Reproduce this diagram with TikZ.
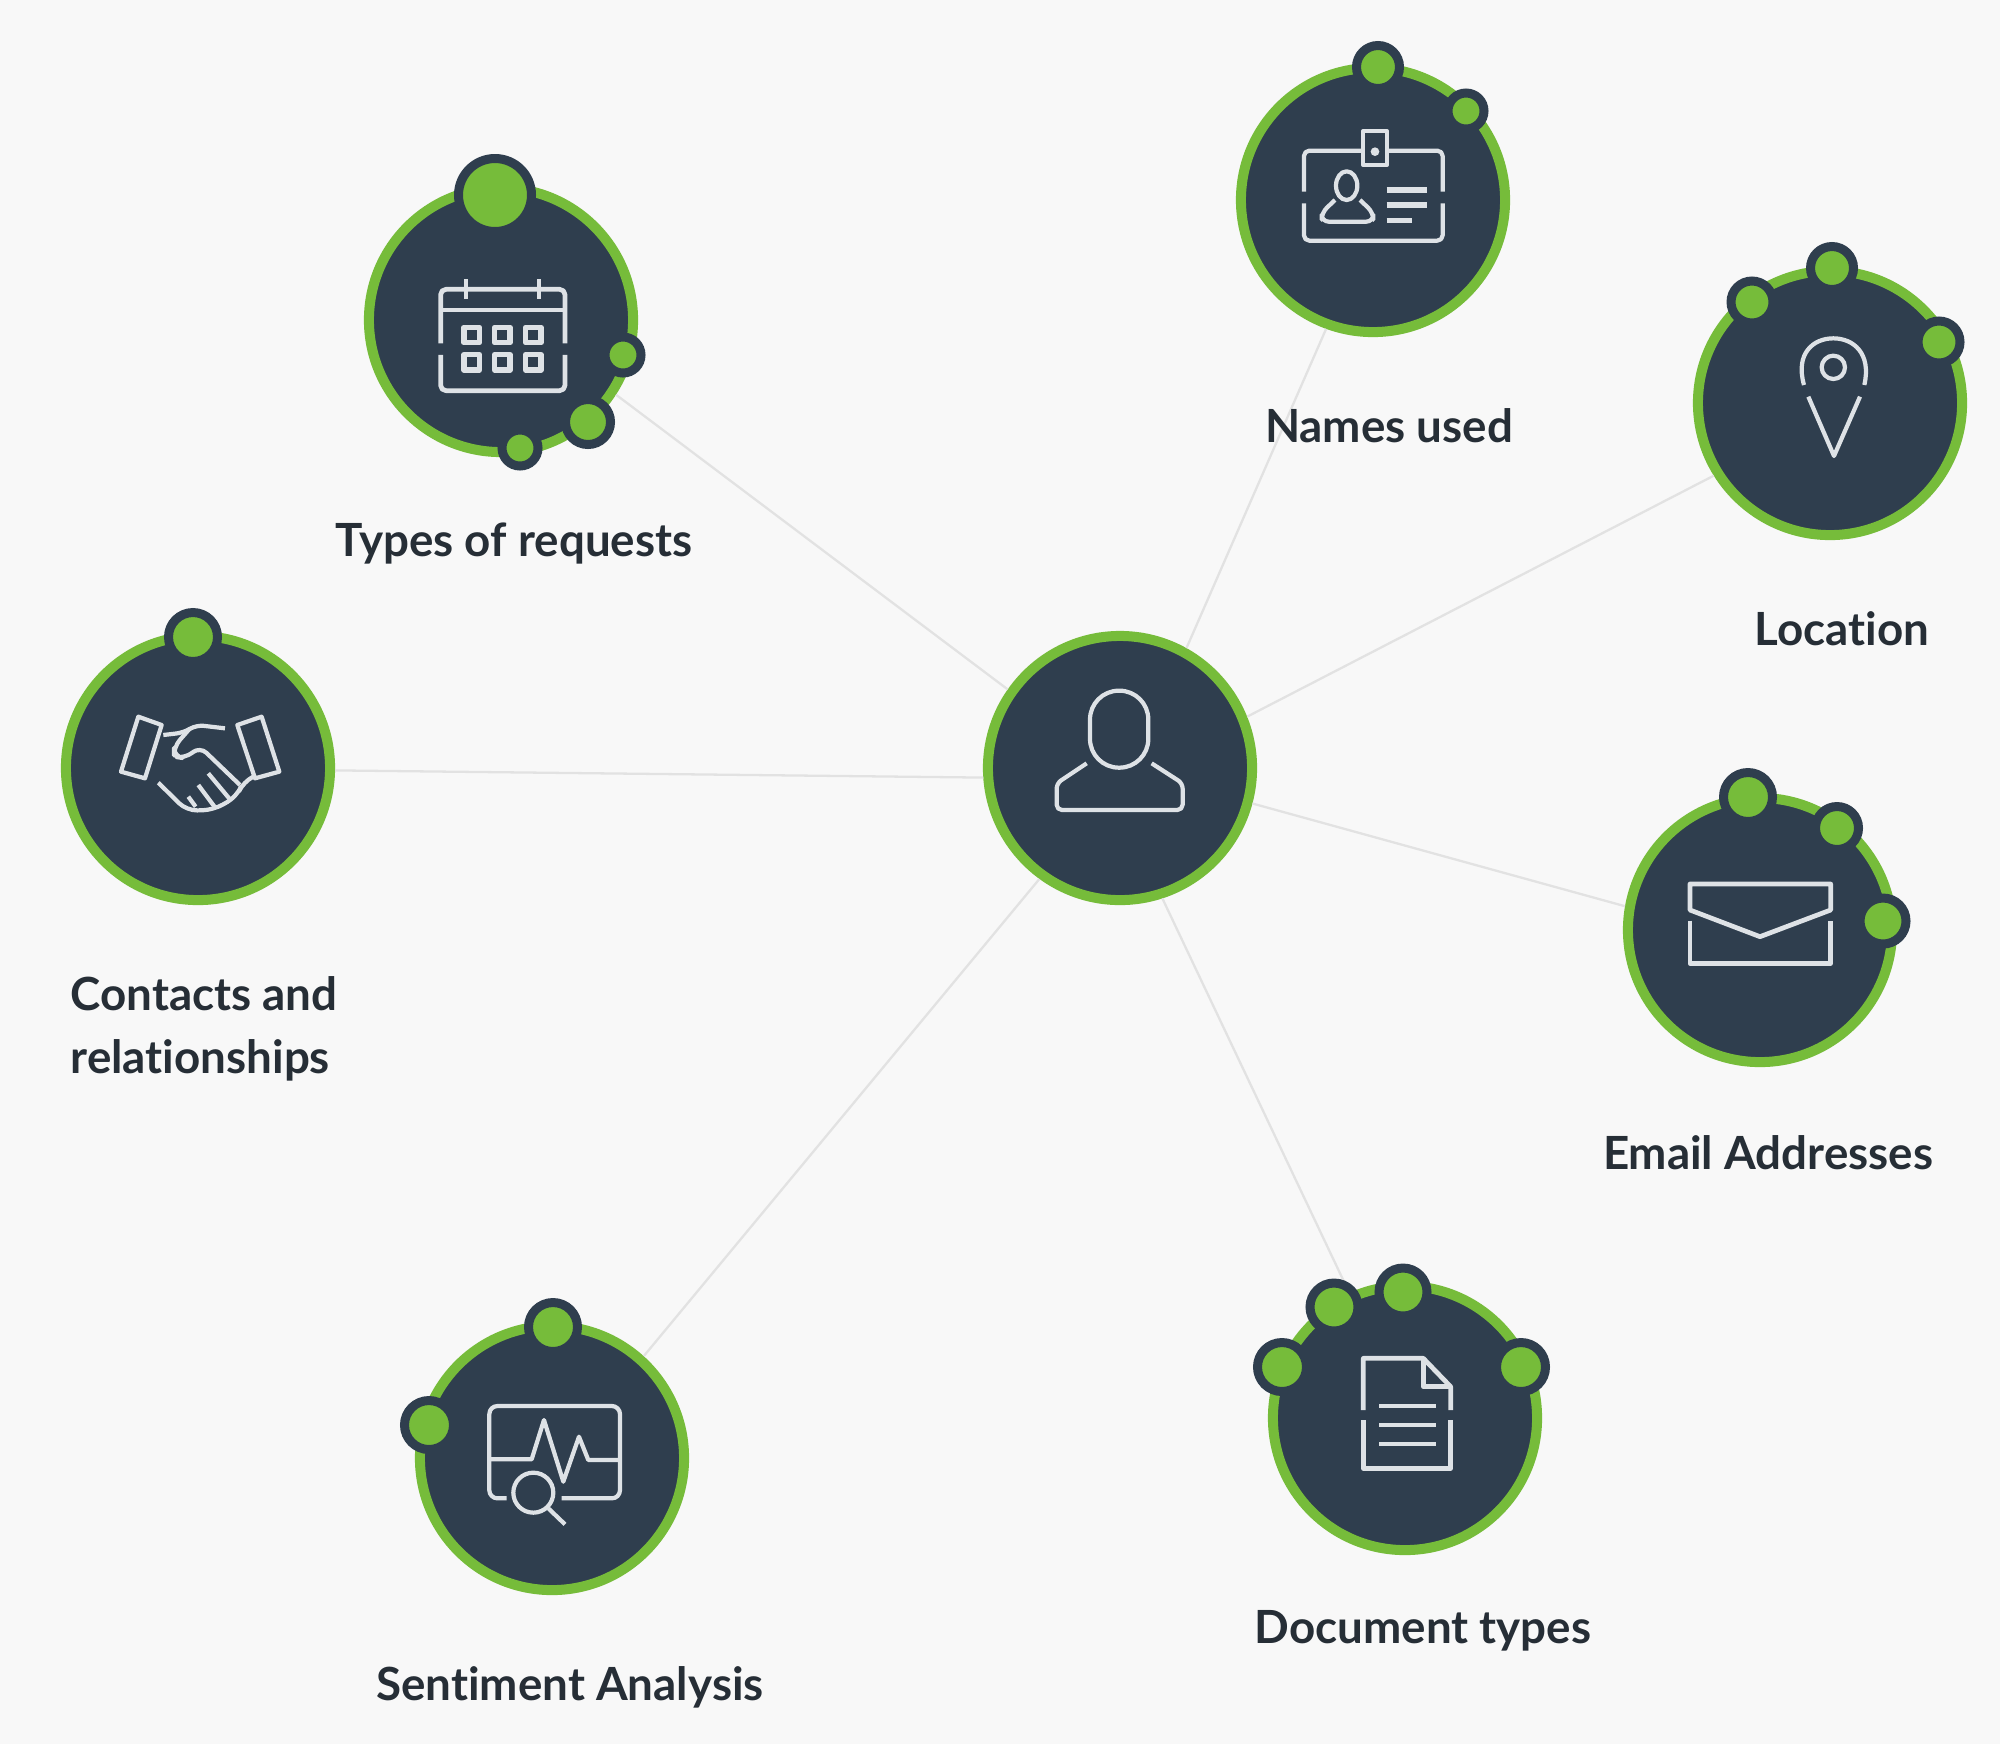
\documentclass[tikz,border=0pt]{standalone}
\usepackage{fontspec}
\setmainfont{Lato}[Ligatures=NoCommon]
\definecolor{leaf}{RGB}{118,188,58}
\definecolor{slate}{RGB}{47,62,78}
\definecolor{paper}{RGB}{248,248,248}
\definecolor{spokegray}{RGB}{226,226,226}
\definecolor{iconline}{RGB}{222,226,230}
\definecolor{inktext}{RGB}{38,46,54}
\tikzset{
	hubnode/.style={circle, fill=slate, draw=leaf, line width=2.85pt, minimum size=2.64cm, inner sep=0pt},
	bubble/.style={circle, fill=leaf, draw=slate, line width=2.56pt, minimum size=#1*0.01cm, inner sep=0pt},
	spoke/.style={spokegray, line width=0.65pt},
	icon/.style={iconline, line width=1.2pt, line join=round},
	itemtext/.style={text=inktext, inner sep=0pt, font=\bfseries\fontsize{13}{18}\selectfont}
}
\begin{document}
\begin{tikzpicture}[x=0.01cm, y=-0.01cm]
	\useasboundingbox (0, 0) rectangle (2000, 1744);
	\fill[paper] (0, 0) rectangle (2000, 1744);

	\node[hubnode] (user) at (1120, 768) {};
	\node[hubnode] (types) at (501, 320) {};
	\node[hubnode] (names) at (1373, 200) {};
	\node[hubnode] (location) at (1830, 403) {};
	\node[hubnode] (contacts) at (198, 768) {};
	\node[hubnode] (email) at (1760, 930) {};
	\node[hubnode] (sentiment) at (552, 1458) {};
	\node[hubnode] (document) at (1405, 1418) {};

	\draw[spoke] (user.145.3) -- (types.327.1);
	\draw[spoke] (user.61.8) -- (names.250);
	\draw[spoke] (user.22.9) -- (location.212.7);
	\draw[spoke] (user.184.6) -- (contacts.359);
	\draw[spoke] (user.345.7) -- (email.170.5);
	\draw[spoke] (user.288.8) -- (document.114.4);
	\draw[spoke] (user.234.3) -- (sentiment.48.7);

	\node[bubble=73] (typesa) at (495, 195) {};
	\node[bubble=36] (typesb) at (623, 355) {};
	\node[bubble=45] (typesc) at (588, 422) {};
	\node[bubble=36] (typesd) at (520, 448) {};
	\node[bubble=43] (namesa) at (1378, 67) {};
	\node[bubble=36] (namesb) at (1466, 111) {};
	\node[bubble=43] (locationa) at (1832, 268) {};
	\node[bubble=42] (locationb) at (1752, 302) {};
	\node[bubble=42] (locationc) at (1939, 342) {};
	\node[bubble=49] (contactsa) at (193, 637) {};
	\node[bubble=49] (emaila) at (1748, 797) {};
	\node[bubble=43] (emailb) at (1837, 828) {};
	\node[bubble=46] (emailc) at (1883, 921) {};
	\node[bubble=49] (sentimenta) at (553, 1327) {};
	\node[bubble=49] (sentimentb) at (429, 1425) {};
	\node[bubble=48] (documenta) at (1403, 1292) {};
	\node[bubble=48] (documentb) at (1334, 1307) {};
	\node[bubble=49] (documentc) at (1282, 1367) {};
	\node[bubble=49] (documentd) at (1521, 1367) {};

	\begin{scope}[shift={(960, 620)}, scale=0.3333]
		\draw[icon, rounded corners=8.2pt] (390, 212) rectangle (565, 443);
		\draw[icon, rounded corners=1.5pt] (380, 430) -- (290, 490) -- (290, 570) -- (668, 570) -- (668, 490) -- (575, 430);
	\end{scope}

	\begin{scope}[shift={(340, 140)}, scale=0.3333]
		\draw[icon, line width=1.35pt, rounded corners=1.5pt] (302, 610) -- (302, 448) -- (675, 448) -- (675, 610);
		\draw[icon, line width=1.35pt, rounded corners=1.5pt] (302, 645) -- (302, 752) -- (675, 752) -- (675, 645);
		\draw[icon, line width=1.35pt] (302, 510) -- (675, 510);
		\draw[icon, line width=1.35pt] (378, 418) -- (378, 478);
		\draw[icon, line width=1.35pt] (597, 418) -- (597, 478);
		\foreach \row in {585, 667} {
			\foreach \col in {395, 487, 580} {
				\draw[icon, line width=1.6pt] (\col-23, \row-23) rectangle (\col+23, \row+23);
			}
		}
	\end{scope}

	\begin{scope}[shift={(1220, 30)}, scale=0.3333]
		\draw[icon, rounded corners=1.5pt] (252, 485) -- (252, 362) -- (430, 362);
		\draw[icon, rounded corners=1.5pt] (500, 362) -- (668, 362) -- (668, 485);
		\draw[icon, rounded corners=1.5pt] (252, 520) -- (252, 632) -- (668, 632) -- (668, 520);
		\draw[icon] (430, 303) rectangle (500, 405);
		\fill[iconline] (465, 365) circle (13);
		\draw[icon] (380, 467) ellipse (32 and 43);
		\draw[icon, rounded corners=2pt] (345, 510) -- (305, 548) -- (305, 575) -- (460, 575) -- (460, 548) -- (420, 510);
		\draw[icon, line width=1.5pt] (500, 480) -- (620, 480);
		\draw[icon, line width=1.5pt] (500, 525) -- (620, 525);
		\draw[icon, line width=1.5pt] (500, 572) -- (575, 572);
	\end{scope}

	\begin{scope}[shift={(1680, 230)}, scale=0.3333]
		\draw[icon] (372, 465) .. controls (345, 370) and (400, 325) .. (460, 325) .. controls (520, 325) and (575, 370) .. (553, 465);
		\draw[icon] (460, 412) circle (35);
		\draw[icon] (385, 500) -- (462, 678) -- (540, 500);
	\end{scope}

	\begin{scope}[shift={(50, 600)}, scale=0.3333]
		\draw[icon] (265, 350) -- (335, 375) -- (285, 535) -- (213, 515) -- cycle;
		\draw[icon] (562, 375) -- (635, 350) -- (688, 515) -- (615, 535) -- cycle;
		\draw[icon, rounded corners=2pt] (340, 405) -- (400, 398) -- (440, 375) -- (525, 385);
		\draw[icon, rounded corners=2.5pt] (420, 385) -- (372, 440) -- (372, 470) -- (405, 475) -- (450, 440) -- (570, 555);
		\draw[icon, rounded corners=3pt] (325, 548) -- (410, 632) -- (490, 630) -- (560, 590) -- (580, 545) -- (610, 530);
		\draw[icon, rounded corners=2pt] (415, 590) -- (437, 620);
		\draw[icon, rounded corners=2pt] (445, 555) -- (495, 622);
		\draw[icon, rounded corners=2pt] (475, 520) -- (540, 598);
	\end{scope}

	\begin{scope}[shift={(1600, 760)}, scale=0.3333]
		\draw[icon, line width=1.35pt] (270, 372) -- (692, 372) -- (692, 450) -- (480, 530) -- (270, 450) -- cycle;
		\draw[icon, line width=1.35pt] (270, 482) -- (270, 610) -- (692, 610) -- (692, 482);
	\end{scope}

	\begin{scope}[shift={(390, 1290)}, scale=0.3333]
		\draw[icon, rounded corners=2.3pt] (350, 625) -- (298, 625) -- (298, 348) -- (690, 348) -- (690, 625) -- (515, 625);
		\draw[icon] (298, 508) -- (425, 508) -- (462, 390) -- (520, 575) -- (567, 440) -- (595, 510) -- (690, 510);
		\fill[slate] (430, 608) circle (62);
		\draw[icon] (430, 608) circle (60);
		\draw[icon] (475, 655) -- (525, 703);
	\end{scope}

	\begin{scope}[shift={(1250, 1260)}, scale=0.3333]
		\draw[icon, line width=1.35pt] (340, 450) -- (340, 295) -- (520, 295) -- (602, 380) -- (602, 450);
		\draw[icon, line width=1.35pt] (340, 480) -- (340, 625) -- (602, 625) -- (602, 480);
		\draw[icon, line width=1.35pt] (520, 295) -- (520, 380) -- (602, 380);
		\draw[icon, line width=1.35pt] (388, 438) -- (558, 438);
		\draw[icon, line width=1.35pt] (388, 495) -- (558, 495);
		\draw[icon, line width=1.35pt] (388, 552) -- (558, 552);
	\end{scope}

	\node[itemtext] (typeslabel) at (514, 543) {Types of requests};
	\node[itemtext] (nameslabel) at (1389, 426) {Names used};
	\node[itemtext] (locationlabel) at (1842, 629) {Location};
	\node[itemtext, align=left, anchor=west] (contactslabel) at (70, 1029) {Contacts and\\relationships};
	\node[itemtext] (emaillabel) at (1768, 1153) {Email Addresses};
	\node[itemtext] (documentlabel) at (1423, 1631) {Document types};
	\node[itemtext] (sentimentlabel) at (570, 1687) {Sentiment Analysis};
\end{tikzpicture}
\end{document}
